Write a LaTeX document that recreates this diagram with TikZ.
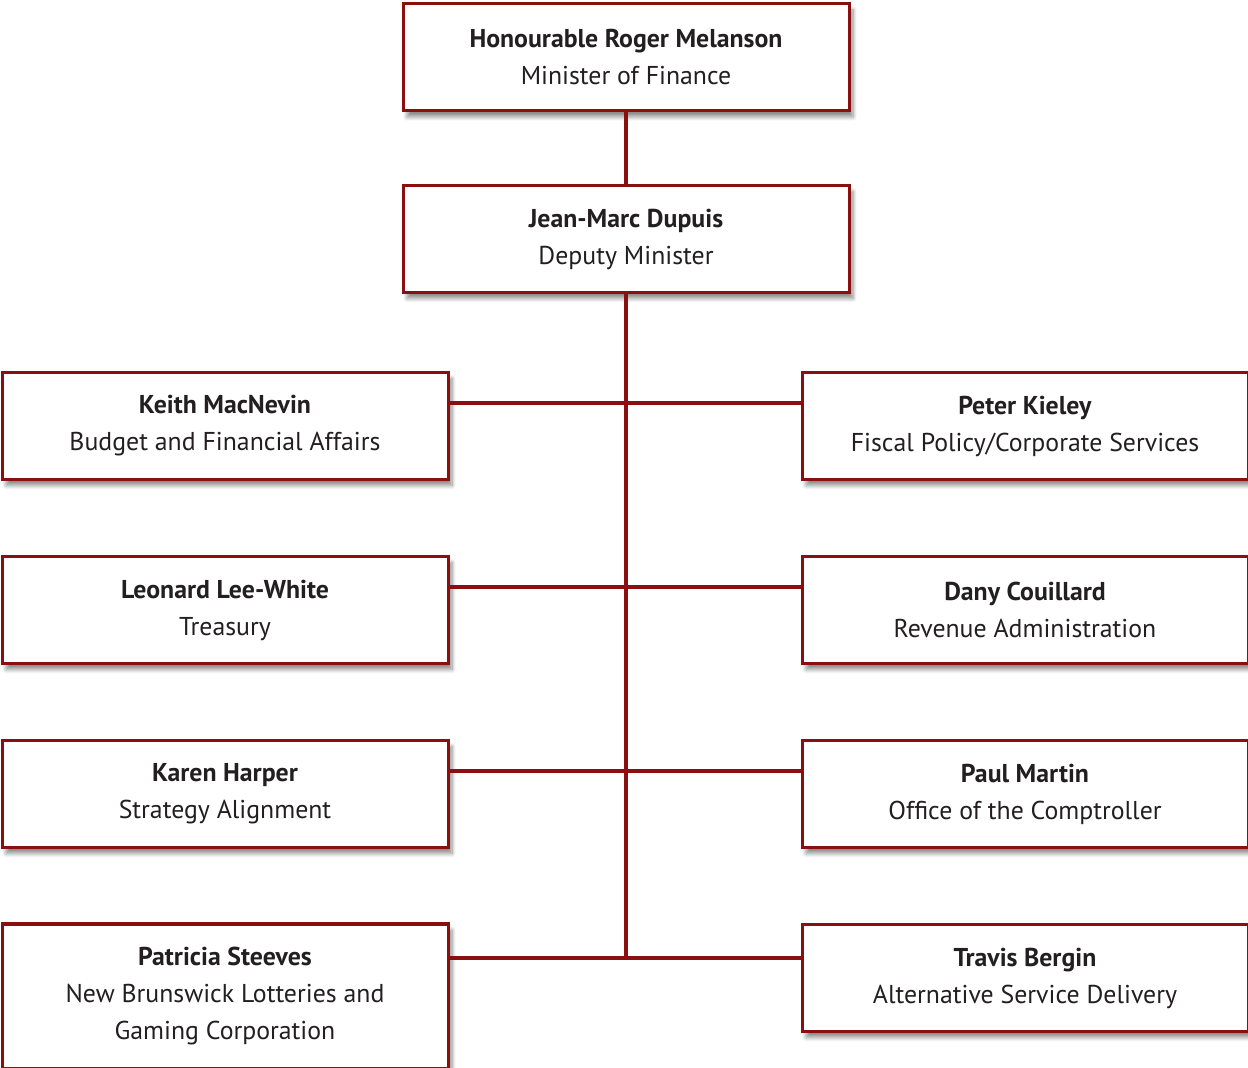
\documentclass[tikz,border=0pt]{standalone}
\usepackage{fontspec}
\setmainfont{PT Sans}
\usetikzlibrary{positioning, shadows.blur}

\definecolor{finred}{RGB}{138,16,16}
\definecolor{fintext}{RGB}{35,31,32}

\tikzset{
  orgbox/.style={rectangle, draw=finred, line width=1.5pt, fill=white,
    minimum width=223pt, minimum height=53.5pt, align=center,
    text=fintext, font=\fontsize{12.9pt}{18.5pt}\selectfont,
    blur shadow={shadow xshift=2pt, shadow yshift=-3pt, shadow blur steps=8, shadow opacity=45}},
  orgline/.style={draw=finred, line width=2pt}
}

\begin{document}
\begin{tikzpicture}[node distance=92pt, on grid]
  \useasboundingbox (0,0) rectangle (624pt,-534pt);

  \node[orgbox] (min) at (313pt,-28.75pt) {\textbf{Honourable Roger Melanson}\\Minister of Finance};
  \node[orgbox] (dep) [below=90.75pt of min] {\textbf{Jean-Marc Dupuis}\\Deputy Minister};

  \node[orgbox] (kmn) [below left=93.5pt and 200.5pt of dep] {\textbf{Keith MacNevin}\\Budget and Financial Affairs};
  \node[orgbox] (pk) [below right=93.5pt and 199.5pt of dep] {\textbf{Peter Kieley}\\Fiscal Policy/Corporate Services};
  \node[orgbox] (llw) [below=of kmn] {\textbf{Leonard Lee-White}\\Treasury};
  \node[orgbox] (dc) [below=of pk] {\textbf{Dany Couillard}\\Revenue Administration};
  \node[orgbox] (kh) [below=of llw] {\textbf{Karen Harper}\\Strategy Alignment};
  \node[orgbox] (pm) [below=of dc] {\textbf{Paul Martin}\\Office of the Comptroller};
  \node[orgbox, minimum height=72pt] (ps) [below=101pt of kh] {\textbf{Patricia Steeves}\\New Brunswick Lotteries and\\Gaming Corporation};
  \node[orgbox] (tb) [below=of pm] {\textbf{Travis Bergin}\\Alternative Service Delivery};

  % branch points on the left boxes
  \coordinate (j1) at ([yshift=-16pt]kmn.north east);
  \coordinate (j2) at ([yshift=-16pt]llw.north east);
  \coordinate (j3) at ([yshift=-16pt]kh.north east);
  \coordinate (j4) at ([yshift=-17.5pt]ps.north east);

  \draw[orgline] (min) -- (dep);
  \draw[orgline] (dep.south) -- (dep.south |- j4);
  \draw[orgline] (j1) -- (j1 -| pk.west);
  \draw[orgline] (j2) -- (j2 -| dc.west);
  \draw[orgline] (j3) -- (j3 -| pm.west);
  \draw[orgline] (j4) -- (j4 -| tb.west);
\end{tikzpicture}
\end{document}
